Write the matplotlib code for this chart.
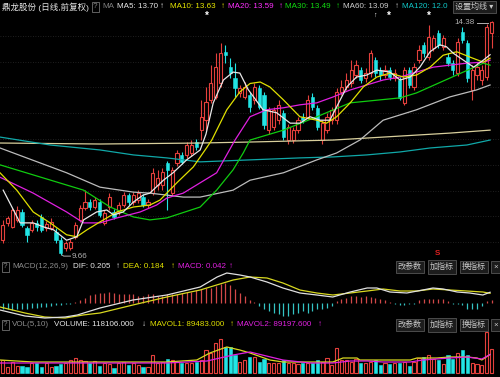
import numpy as np
import matplotlib.pyplot as plt

plt.rcParams['font.family'] = ['Liberation Sans', 'Noto Sans CJK SC', 'DejaVu Sans']

# daily K-line, 102 trading days (price in yuan)
opens = [9.96, 10.31, 10.23, 10.37, 10.53, 10.21, 10.17, 10.30, 10.43, 10.20,
         10.21, 10.13, 9.96, 9.80, 9.80, 10.03, 10.37, 10.61, 10.73, 10.63,
         10.73, 10.31, 10.63, 10.53, 10.53, 10.67, 10.87, 10.73, 10.77, 10.83,
         10.67, 10.91, 11.08, 11.08, 11.52, 10.91, 11.52, 11.68, 11.68, 11.72,
         11.94, 12.18, 12.38, 12.79, 12.85, 13.13, 13.76, 13.45, 13.23, 12.93,
         12.85, 12.89, 12.79, 13.03, 12.89, 12.18, 12.24, 12.38, 12.53, 11.98,
         11.98, 12.18, 12.45, 12.45, 12.85, 12.63, 11.98, 12.18, 12.38, 12.38,
         12.95, 13.05, 13.13, 13.29, 13.39, 13.23, 13.33, 13.59, 13.39, 13.29,
         13.39, 13.23, 13.19, 12.73, 13.39, 13.05, 13.59, 13.90, 13.65, 13.84,
         14.14, 13.86, 13.65, 13.53, 13.33, 14.16, 13.94, 12.99, 13.29, 13.19,
         13.25, 14.14]
highs = [10.37, 10.45, 10.62, 10.65, 10.58, 10.25, 10.36, 10.36, 10.48, 10.34,
         10.40, 10.20, 10.02, 9.95, 9.98, 10.33, 10.67, 10.97, 10.79, 10.83,
         10.80, 10.57, 10.91, 10.59, 10.73, 10.93, 10.91, 10.93, 10.97, 10.89,
         10.79, 11.42, 11.38, 11.42, 11.56, 11.44, 11.78, 11.74, 11.94, 11.98,
         12.00, 12.79, 13.05, 13.49, 13.73, 13.94, 13.90, 13.63, 13.53, 13.09,
         13.15, 12.95, 13.13, 13.09, 12.95, 12.65, 12.65, 12.79, 12.59, 12.30,
         12.24, 12.45, 12.53, 12.89, 12.93, 12.69, 12.38, 12.53, 12.65, 13.03,
         13.19, 13.33, 13.59, 13.59, 13.45, 13.43, 13.80, 13.65, 13.45, 13.49,
         13.45, 13.41, 13.25, 13.45, 13.45, 13.53, 13.90, 13.96, 14.30, 14.10,
         14.20, 14.10, 13.73, 13.59, 14.04, 14.26, 14.00, 13.49, 13.55, 13.49,
         14.32, 14.38]
lows = [9.90, 10.25, 10.20, 10.33, 10.22, 9.92, 10.12, 10.15, 10.12, 10.15,
        10.17, 9.90, 9.66, 9.74, 9.76, 9.98, 10.33, 10.57, 10.57, 10.59,
        10.42, 10.27, 10.57, 10.39, 10.47, 10.63, 10.67, 10.67, 10.71, 10.63,
        10.61, 10.87, 10.97, 10.97, 10.57, 10.85, 11.46, 11.50, 11.62, 11.66,
        11.78, 11.98, 12.18, 12.73, 12.80, 13.05, 13.53, 13.23, 12.85, 12.85,
        12.80, 12.55, 12.70, 12.60, 12.20, 12.10, 12.18, 12.30, 11.98, 11.90,
        11.92, 12.12, 12.32, 12.40, 12.59, 12.18, 11.90, 12.12, 12.30, 12.30,
        12.89, 12.99, 13.05, 13.23, 13.13, 13.15, 13.25, 13.25, 13.19, 13.23,
        13.19, 13.17, 12.79, 12.69, 13.03, 12.99, 13.53, 13.65, 13.59, 13.78,
        13.84, 13.80, 13.47, 13.29, 13.27, 13.94, 13.15, 12.79, 13.19, 13.09,
        13.19, 13.84]
closes = [10.27, 10.41, 10.57, 10.57, 10.27, 10.07, 10.31, 10.22, 10.17, 10.28,
          10.33, 9.96, 9.70, 9.90, 9.92, 10.27, 10.61, 10.73, 10.63, 10.77,
          10.47, 10.51, 10.83, 10.43, 10.67, 10.87, 10.73, 10.87, 10.91, 10.67,
          10.73, 11.32, 11.22, 11.34, 11.38, 11.38, 11.72, 11.54, 11.88, 11.88,
          11.84, 12.45, 12.75, 13.13, 13.45, 13.73, 13.69, 13.33, 13.03, 13.03,
          13.05, 12.65, 13.05, 12.65, 12.28, 12.59, 12.59, 12.69, 12.04, 12.24,
          12.18, 12.38, 12.38, 12.79, 12.65, 12.24, 12.32, 12.45, 12.59, 12.95,
          13.05, 13.19, 13.39, 13.49, 13.19, 13.33, 13.73, 13.33, 13.29, 13.39,
          13.25, 13.33, 12.83, 13.39, 13.09, 13.45, 13.80, 13.73, 14.06, 14.04,
          13.90, 14.04, 13.53, 13.39, 13.96, 14.00, 13.23, 13.39, 13.45, 13.39,
          14.26, 14.36]
volumes = [62000, 29400, 53900, 32700, 32700, 26100, 45700, 49000, 29400, 45700,
           26100, 32700, 40800, 49000, 62000, 70200, 62000, 57200, 45700, 58800,
           32700, 49000, 42500, 21200, 45700, 53900, 37600, 45700, 37600, 29400,
           29400, 86600, 45700, 53900, 65300, 62000, 53900, 45700, 45700, 45700,
           53900, 62000, 111000, 94700, 143700, 163300, 124000, 124000, 86600, 53900,
           62000, 78400, 75000, 53900, 65300, 45700, 45700, 49000, 62000, 49000,
           45700, 40800, 49000, 49000, 45700, 62000, 53900, 70200, 37600, 119000,
           62000, 62000, 53900, 65300, 45700, 49000, 53900, 62000, 37600, 45700,
           42500, 45700, 45700, 53900, 32700, 53900, 70200, 78400, 86600, 65300,
           62000, 42500, 86600, 65300, 94700, 111000, 86600, 45700, 42500, 37600,
           200000, 118106]
macd_hist = [-0.13, -0.13, -0.15, -0.13, -0.12, -0.12, -0.10, -0.10, -0.08, -0.08,
             -0.07, -0.05, -0.04, -0.03, -0.02, 0.02, 0.05, 0.10, 0.15, 0.17,
             0.19, 0.19, 0.21, 0.19, 0.17, 0.17, 0.17, 0.17, 0.13, 0.13,
             0.17, 0.17, 0.13, 0.13, 0.17, 0.17, 0.18, 0.20, 0.22, 0.22,
             0.25, 0.27, 0.30, 0.30, 0.33, 0.37, 0.40, 0.35, 0.27, 0.20,
             0.13, 0.05, 0.02, -0.07, -0.13, -0.17, -0.20, -0.23, -0.27, -0.27,
             -0.23, -0.20, -0.17, -0.20, -0.17, -0.13, -0.13, -0.10, -0.07, 0.03,
             0.07, 0.10, 0.13, 0.13, 0.12, 0.13, 0.12, 0.10, 0.08, 0.05,
             0.02, -0.03, -0.05, -0.05, -0.03, -0.02, 0.05, 0.07, 0.08, 0.08,
             0.07, 0.07, 0.03, -0.03, -0.02, -0.05, -0.12, -0.13, -0.13, -0.07,
             0.03, 0.042]

# indicator lines: (day index, value)
ma5_x = [0.1, 3.6, 6.3, 8.4, 10.5, 13.2, 15.3, 16.7, 19.4, 21.5, 22.9, 24.9, 27.0, 29.0,
         30.4, 33.2, 35.2, 38.0, 40.8, 42.0, 43.5, 45.6, 47.6, 49.0, 50.7, 53.8, 56.6,
         59.4, 61.4, 63.5, 65.6, 67.6, 69.0, 71.1, 73.1, 75.2, 77.3, 80.0, 82.1, 84.2,
         86.2, 88.3, 90.3, 91.7, 93.1, 95.2, 97.3, 99.3, 100.7]
ma5_y = [10.97, 10.31, 10.31, 10.23, 10.17, 9.96, 10.03, 10.37, 10.53, 10.57, 10.47,
         10.53, 10.73, 10.87, 10.91, 11.17, 11.32, 11.58, 11.78, 12.10, 12.73, 13.19,
         13.35, 13.33, 13.00, 12.59, 12.53, 12.32, 12.32, 12.45, 12.38, 12.38, 12.65,
         13.05, 13.25, 13.29, 13.39, 13.35, 13.19, 13.25, 13.45, 13.76, 13.90, 13.86,
         13.73, 13.59, 13.45, 13.59, 13.70]
ma10_x = [-0.56, 2.9, 6.3, 9.8, 13.2, 15.3, 17.4, 20.1, 23.6, 27.0, 30.4, 32.5, 36.0,
          39.4, 42.1, 43.2, 46.3, 49.0, 51.1, 53.2, 55.2, 58.0, 61.4, 64.9, 66.9, 69.0,
          71.8, 74.5, 77.3, 80.0, 82.8, 85.5, 88.3, 91.0, 93.8, 96.6, 99.3, 100.7]
ma10_y = [11.32, 10.97, 10.53, 10.31, 10.07, 10.03, 10.17, 10.33, 10.53, 10.63, 10.67,
          10.77, 11.12, 11.44, 11.82, 11.98, 12.59, 12.95, 13.12, 13.15, 13.05, 12.79,
          12.45, 12.38, 12.32, 12.45, 12.73, 13.05, 13.25, 13.33, 13.25, 13.29, 13.45,
          13.69, 13.76, 13.65, 13.55, 13.63]
ma20_x = [-0.56, 6.3, 13.2, 16.7, 20.1, 23.6, 28.4, 31.8, 33.9, 37.3, 44.2, 48.0, 51.1,
          54.5, 58.0, 61.4, 64.9, 68.3, 71.8, 75.2, 78.6, 82.1, 85.5, 89.0, 92.4, 95.9,
          99.3, 100.7]
ma20_y = [11.23, 10.91, 10.53, 10.31, 10.31, 10.41, 10.53, 10.67, 10.81, 10.91, 11.32,
          11.98, 12.45, 12.59, 12.63, 12.69, 12.73, 12.85, 12.99, 13.09, 13.19, 13.25,
          13.35, 13.45, 13.49, 13.53, 13.55, 13.59]
ma30_x = [-0.56, 16.7, 22.2, 27.0, 30.4, 33.9, 40.8, 44.2, 47.6, 49.7, 51.1, 58.0, 64.9,
          71.8, 82.1, 85.5, 92.4, 99.3, 100.7]
ma30_y = [11.48, 10.97, 10.63, 10.43, 10.37, 10.41, 10.63, 10.97, 11.38, 11.72, 11.98,
          12.18, 12.45, 12.73, 12.83, 12.93, 13.23, 13.53, 13.49]
ma60_x = [-0.56, 13.2, 20.1, 27.0, 30.4, 37.3, 40.8, 47.6, 51.1, 58.0, 64.9, 69.0, 73.8,
          78.6, 85.5, 92.4, 97.9, 100.7]
ma60_y = [11.82, 11.32, 11.03, 10.93, 10.91, 10.83, 10.83, 10.97, 11.17, 11.32, 11.58,
          11.72, 11.98, 12.38, 12.59, 12.85, 12.99, 13.09]
ma120_x = [-0.56, 9.8, 20.1, 27.0, 33.9, 40.8, 51.1, 61.4, 68.3, 75.2, 82.1, 88.3, 95.9,
           100.7]
ma120_y = [12.04, 11.88, 11.78, 11.68, 11.62, 11.54, 11.58, 11.62, 11.64, 11.68, 11.74,
           11.82, 11.88, 11.98]
ma250_x = [-0.56, 20.1, 40.8, 51.1, 68.3, 82.1, 92.4, 100.7]
ma250_y = [11.92, 11.90, 11.92, 11.94, 11.98, 12.06, 12.12, 12.18]

dif_x = [-0.56, 4.6, 8.7, 12.9, 15.4, 20.1, 26.9, 33.9, 40.8, 44.3, 46.3, 49.0, 51.1,
         54.6, 57.9, 61.4, 64.9, 68.2, 71.8, 75.3, 77.3, 80.0, 83.5, 86.8, 88.9, 91.0,
         93.9, 96.5, 99.2, 100.7]
dif_y = [-0.15, -0.27, -0.31, -0.29, -0.25, -0.11, 0.05, 0.15, 0.31, 0.51, 0.59, 0.55,
         0.51, 0.41, 0.29, 0.19, 0.15, 0.11, 0.21, 0.29, 0.29, 0.21, 0.19, 0.25, 0.29,
         0.27, 0.21, 0.19, 0.15, 0.205]
dea_x = [-0.56, 4.6, 8.7, 12.9, 16.6, 20.1, 26.9, 33.9, 40.8, 47.6, 51.1, 54.6, 57.9,
         61.4, 64.9, 68.2, 71.8, 75.3, 78.6, 82.1, 85.6, 88.9, 92.4, 95.9, 99.2, 100.7]
dea_y = [-0.09, -0.21, -0.29, -0.31, -0.25, -0.21, -0.05, 0.11, 0.25, 0.45, 0.51, 0.49,
         0.39, 0.25, 0.19, 0.15, 0.19, 0.23, 0.27, 0.23, 0.23, 0.27, 0.25, 0.23, 0.21,
         0.184]

mavol1_x = [-0.56, 6.3, 20.1, 33.9, 40.1, 42.8, 46.3, 49.0, 51.1, 55.2, 57.9, 68.2, 70.3,
            73.2, 73.8, 84.2, 85.6, 89.7, 92.4, 95.9, 98.0, 99.0, 100.7]
mavol1_y = [62200, 52400, 52400, 52400, 62200, 96500, 126000, 111000, 96500, 62200,
            52400, 52400, 72000, 72000, 62200, 62200, 72000, 72000, 77000, 77000, 72000,
            62200, 89483]
mavol2_x = [-0.56, 13.3, 33.9, 42.2, 47.6, 51.1, 57.9, 63.5, 68.2, 71.8, 75.3, 78.6, 84.2,
            86.8, 92.4, 95.9, 99.0, 100.7]
mavol2_y = [47500, 47500, 47500, 57300, 86700, 101400, 62200, 47500, 47500, 57300, 57300,
            52400, 52400, 62200, 72000, 77000, 67100, 89197.6]

RED = '#e4403c'
CYAN = '#22e4e4'
W, H = 500, 377

fig = plt.figure(figsize=(5, 3.77), dpi=100, facecolor='black')


def panel(top, bottom):
    ax = fig.add_axes([0, 1 - bottom / H, 1, (bottom - top) / H])
    ax.set_facecolor('black')
    ax.set_xlim(-0.56, 102.75)
    for s in ax.spines.values():
        s.set_visible(False)
    ax.set_xticks([])
    ax.set_yticks([])
    return ax


idx = np.arange(len(closes))
o = np.array(opens)
c = np.array(closes)
hi = np.array(highs)
lo = np.array(lows)
up = c >= o
col = np.where(up, RED, CYAN)

# main K-line panel
ax = panel(14, 258)
ax.set_ylim(9.602, 14.521)
for g in np.arange(9.92, 14.2, 0.52):
    ax.axhline(g, color='#2a2a2a', lw=0.6, ls=(0, (1, 2)), zorder=0)
ax.vlines(idx, lo, hi, colors=col, lw=0.8, zorder=2)
body = np.maximum(np.abs(c - o), 0.012)
bot = np.minimum(o, c)
ax.bar(idx[up], body[up], bottom=bot[up], width=0.66, facecolor='black',
       edgecolor=RED, lw=0.8, zorder=3)
ax.bar(idx[~up], body[~up], bottom=bot[~up], width=0.66, color=CYAN,
       edgecolor=CYAN, lw=0.4, zorder=3)
ax.plot(ma250_x, ma250_y, color='#d8cf9c', lw=0.9, zorder=4)
ax.plot(ma120_x, ma120_y, color='#10a8a8', lw=0.9, zorder=4)
ax.plot(ma60_x, ma60_y, color='#bcbcbc', lw=0.9, zorder=4)
ax.plot(ma30_x, ma30_y, color='#10cc10', lw=0.9, zorder=4)
ax.plot(ma20_x, ma20_y, color='#e020e0', lw=0.9, zorder=4)
ax.plot(ma10_x, ma10_y, color='#e0e000', lw=0.9, zorder=4)
ax.plot(ma5_x, ma5_y, color='#e8e8e8', lw=0.9, zorder=4)

# high / low labels
ax.plot([98.1, 100.2], [14.34, 14.34], color='#b0b0b0', lw=0.7)
ax.text(97.6, 14.34, '14.38', color='#b0b0b0', fontsize=5.8, ha='right', va='center')
ax.plot([12.3, 12.6, 14.0], [9.66, 9.64, 9.64], color='#b0b0b0', lw=0.7)
ax.text(14.3, 9.64, '9.66', color='#b0b0b0', fontsize=5.8, ha='left', va='center')
ax.text(89.8, 9.69, 'S', color='#e02020', fontsize=5.8, fontweight='bold',
        ha='center', va='center')

# MACD panel
axm = panel(258, 320)
axm.set_ylim(-0.35, 0.89)
mh = np.array(macd_hist)
axm.vlines(idx, 0, mh, colors=np.where(mh >= 0, '#d24848', '#34c4c4'), lw=0.9)
axm.plot(dea_x, dea_y, color='#d8d820', lw=0.9)
axm.plot(dif_x, dif_y, color='#e0e0e0', lw=0.9)

# volume panel
axv = panel(320, 377)
axv.set_ylim(-21000, 258000)
v = np.array(volumes)
axv.bar(idx[up], v[up], width=0.66, facecolor='black', edgecolor=RED, lw=0.8)
axv.bar(idx[~up], v[~up], width=0.66, color=CYAN, edgecolor=CYAN, lw=0.4)
axv.plot(mavol1_x, mavol1_y, color='#d8d820', lw=0.9)
axv.plot(mavol2_x, mavol2_y, color='#e020e0', lw=0.9)


def put(x, y, s, color, size=5.8, **kw):
    fig.text(x / W, 1 - y / H, s, color=color, fontsize=size, ha='left',
             va='center', **kw)


qbox = dict(boxstyle='square,pad=0.15', fc='black', ec='#707070', lw=0.6)
bbox = dict(boxstyle='square,pad=0.3', fc='#1c1c1c', ec='#555555', lw=0.6)

# header of the main panel
put(2, 7, '鼎龙股份 (日线,前复权)', '#e6e6e6', size=6.1)
put(93, 7, '?', '#808080', bbox=qbox)
put(102, 7, 'MA', '#808080')
put(117, 7, 'MA5: 13.70', '#e8e8e8')
put(160, 7, '↑', '#e8e8e8')
put(170, 7, 'MA10: 13.63', '#e8e800')
put(221, 7, '↑', '#e8e800')
put(228, 7, 'MA20: 13.59', '#ff30ff')
put(279, 7, '↑', '#ff30ff')
put(285, 7, 'MA30: 13.49', '#10dd10')
put(336, 7, '↑', '#10dd10')
put(343, 7, 'MA60: 13.09', '#d0d0d0')
put(395, 7, '↑', '#d0d0d0')
put(402, 7, 'MA120: 12.0', '#10c8c8')
put(455, 7, '设置均线 ▾', '#c8c8c8', bbox=bbox)
for sx in [207, 389, 429]:
    fig.text(sx / W, 1 - 16 / H, '*', color='white', fontsize=7, fontweight='bold',
             ha='center', va='center')
fig.text(375 / W, 1 - 15 / H, '↑', color='white', fontsize=5, ha='center', va='center')

# header of the MACD panel
put(3, 267, '?', '#808080', bbox=qbox)
put(12, 267, 'MACD(12,26,9)', '#8c8c8c')
put(73, 267, 'DIF: 0.205', '#e8e8e8')
put(116, 267, '↑', '#e8e8e8')
put(123, 267, 'DEA: 0.184', '#e0e000')
put(171, 267, '↑', '#e0e000')
put(178, 267, 'MACD: 0.042', '#e020e0')
put(229, 267, '↑', '#e020e0')

# header of the volume panel
put(3, 325, '?', '#808080', bbox=qbox)
put(12, 325, 'VOL(5,10)', '#8c8c8c')
put(54, 325, 'VOLUME: 118106.000', '#e8e8e8')
put(142, 325, '↓', '#e8e8e8')
put(150, 325, 'MAVOL1: 89483.000', '#e0e000')
put(230, 325, '↑', '#e0e000')
put(237, 325, 'MAVOL2: 89197.600', '#e020e0')
put(318, 325, '↑', '#e020e0')

for yy in [267, 325]:
    put(398, yy, '改参数', '#c8c8c8', bbox=bbox)
    put(430, yy, '加指标', '#c8c8c8', bbox=bbox)
    put(462, yy, '换指标', '#c8c8c8', bbox=bbox)
    put(493, yy, '×', '#c8c8c8', bbox=bbox)

fig.savefig('out.png', dpi=100, facecolor='black')
